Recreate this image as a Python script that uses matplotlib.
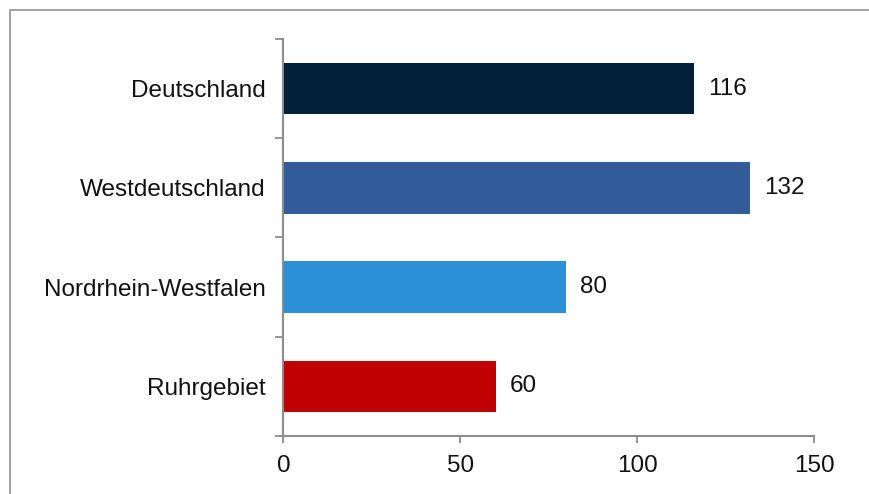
import matplotlib
matplotlib.use("Agg")
import matplotlib.pyplot as plt
from matplotlib.patches import Rectangle

plt.rcParams['font.family'] = ['Liberation Sans', 'DejaVu Sans']

regions = ["Deutschland", "Westdeutschland", "Nordrhein-Westfalen", "Ruhrgebiet"]
values = [116, 132, 80, 60]
colors = ["#021f38", "#325c99", "#2b90d6", "#c00000"]
x_ticks = [0, 50, 100, 150]

W, H, DPI = 870, 494, 100
fig = plt.figure(figsize=(W / DPI, H / DPI), dpi=DPI)

# outer chart frame (open at the right and bottom edges)
fig.patches.append(Rectangle((10 / W, -0.1), 1.2, 1 - 10 / H + 0.1,
                             transform=fig.transFigure, fill=False,
                             edgecolor="#9a9a9a", linewidth=1.3))

ax = fig.add_axes([283.5 / W, 1 - 436 / H, (814 - 283.5) / W, (436 - 39) / H])

pos = list(range(len(regions)))
bars = ax.barh(pos, values, height=0.52, color=colors)
ax.bar_label(bars, labels=[str(v) for v in values], padding=10,
             fontsize=17.5, color="#111111")

ax.set_ylim(len(regions) - 0.5, -0.5)
ax.set_xlim(0, 150)
ax.set_xticks(x_ticks)
ax.set_xticklabels([str(t) for t in x_ticks])

# category boundaries carry the tick marks, category centres carry the names
ax.set_yticks([p + 0.5 for p in [-1] + pos], minor=False)
ax.set_yticklabels([])
ax.set_yticks(pos, minor=True)
ax.set_yticklabels(regions, minor=True)
ax.tick_params(axis="y", which="minor", length=0, pad=13, labelsize=17.5,
               labelcolor="#111111")
ax.tick_params(axis="y", which="major", length=6, width=1.3, color="#8c8c8c")
ax.tick_params(axis="x", length=5, width=1.3, color="#8c8c8c", pad=9,
               labelsize=17.5, labelcolor="#111111")

for s in ["top", "right"]:
    ax.spines[s].set_visible(False)
for s in ["left", "bottom"]:
    ax.spines[s].set_color("#8c8c8c")
    ax.spines[s].set_linewidth(1.5)
ax.spines["bottom"].set_bounds(0, 150)

fig.savefig("out.png", dpi=DPI)
